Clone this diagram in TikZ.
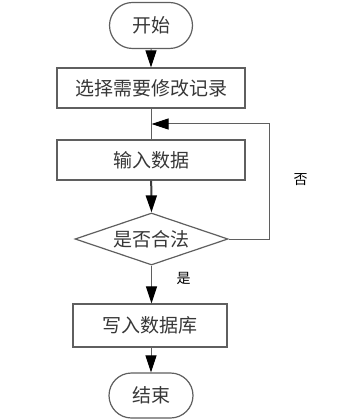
\documentclass[tikz,border=0pt]{standalone}
\usepackage{fontspec}
\newfontfamily\cjk{Noto Sans CJK SC}
\usetikzlibrary{shapes.geometric,shapes.misc,arrows.meta}
\definecolor{lnc}{RGB}{95,95,95}
\definecolor{dkc}{RGB}{60,60,60}
\definecolor{txc}{RGB}{55,55,55}
\tikzset{
  base/.style={draw=lnc,line width=1.2pt,fill=white,text=txc,inner sep=0pt,font=\cjk\fontsize{19}{19}\selectfont},
  procbox/.style={base,rectangle,minimum height=40pt},
  termbox/.style={base,rounded rectangle,minimum width=83pt,minimum height=46pt},
  decbox/.style={base,diamond,aspect=3,minimum width=153pt,minimum height=52pt},
  tip/.style={-{Triangle[length=17pt,width=11pt,black]}},
  conn/.style={draw=lnc,line width=1pt,tip},
  thick conn/.style={draw=dkc,line width=2pt,tip},
  plain/.style={draw=lnc,line width=1pt},
  lbl/.style={text=black,font=\cjk\fontsize{14}{14}\selectfont}
}
\begin{document}
\begin{tikzpicture}[x=1pt,y=-1pt]
\useasboundingbox (0,0) rectangle (353,419);
\node[termbox] (start) at (151,25.5) {开始};
\node[procbox,minimum width=188pt] (b1) at (151,88) {选择需要修改记录};
\node[procbox,minimum width=188pt] (b2) at (151,160) {输入数据};
\node[decbox] (dia) at (151.5,239) {是否合法};
\node[procbox,minimum width=154pt,minimum height=43pt] (b3) at (150,325.5) {写入数据库};
\node[termbox,minimum width=84pt,minimum height=45pt] (end) at (151,395.5) {结束};
\coordinate (j) at (151.5,124);
\coordinate (r) at (269.5,0);
\draw[conn] (start) -- (b1);
\draw[plain] (b1) -- (b2);
\draw[thick conn] (b2) -- (dia.north);
\draw[conn] (dia.east) -- (dia.east -| r) |- (j);
\draw[conn] (dia.south) -- (b3.north -| dia.south);
\draw[conn] (b3.south -| end.north) -- (end.north);
\node[lbl] (yes) at (183.5,278.5) {是};
\node[lbl] (no) at (300.5,180) {否};
\end{tikzpicture}
\end{document}
